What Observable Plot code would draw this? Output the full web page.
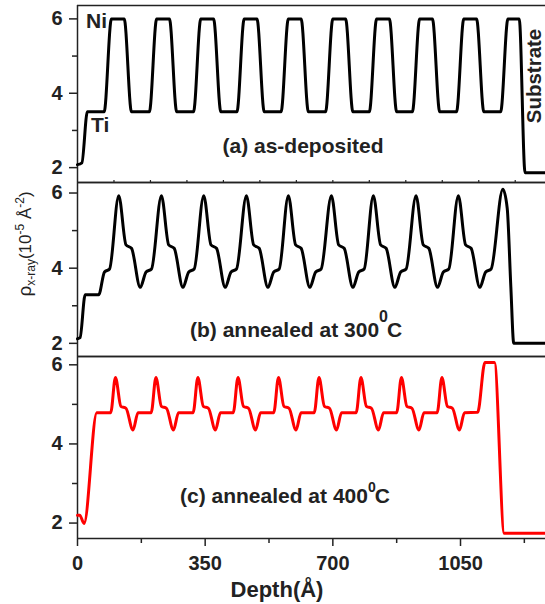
<!DOCTYPE html>
<html><head><meta charset="utf-8">
<script src="https://cdn.jsdelivr.net/npm/d3@7"></script>
<script src="https://cdn.jsdelivr.net/npm/@observablehq/plot@0.6"></script>
<style>
body{margin:0;background:#fff;}
#chart{position:relative;width:545px;height:604px;overflow:hidden;background:#fff;}
#chart svg{position:absolute;left:0;}
</style></head><body><div id="chart"></div>
<script>
// (a) as-deposited
const depthA = [0, 12, 27, 73, 93, 128, 148,
  197, 217, 252, 272,
  318, 338, 373, 393,
  437, 457, 492, 512,
  558, 578, 613, 633,
  680, 700, 735, 755,
  800, 820, 855, 875,
  918, 938, 973, 993,
  1039, 1059, 1094, 1114,
  1160, 1180, 1211, 1227, 1283];
const rhoA = [2.08, 2.13, 3.5, 3.5, 6, 6, 3.5,
  3.5, 6, 6, 3.5,
  3.5, 6, 6, 3.5,
  3.5, 6, 6, 3.5,
  3.5, 6, 6, 3.5,
  3.5, 6, 6, 3.5,
  3.5, 6, 6, 3.5,
  3.5, 6, 6, 3.5,
  3.5, 6, 6, 3.5,
  3.5, 6, 6, 1.86, 1.86];
// (b) annealed at 300 C
const depthB = [0, 7, 21, 58, 74, 88,
  113, 133, 148, 172, 188, 203,
  230, 250, 265, 289, 305, 320,
  346, 366, 381, 405, 421, 436,
  463, 483, 498, 522, 538, 553,
  578, 598, 613, 637, 653, 668,
  696, 716, 731, 755, 771, 786,
  811, 831, 846, 870, 886, 901,
  928, 948, 963, 987, 1003, 1018,
  1044, 1064, 1079, 1103, 1119, 1134,
  1166, 1178, 1188, 1196, 1283];
const rhoB = [2.12, 2.15, 3.29, 3.29, 3.9, 3.98,
  5.93, 4.62, 4.53, 3.49, 3.9, 3.98,
  5.93, 4.62, 4.53, 3.49, 3.9, 3.98,
  5.93, 4.62, 4.53, 3.49, 3.9, 3.98,
  5.93, 4.62, 4.53, 3.49, 3.9, 3.98,
  5.93, 4.62, 4.53, 3.49, 3.9, 3.98,
  5.93, 4.62, 4.53, 3.49, 3.9, 3.98,
  5.93, 4.62, 4.53, 3.49, 3.9, 3.98,
  5.93, 4.62, 4.53, 3.49, 3.9, 3.98,
  5.93, 4.62, 4.53, 3.49, 3.9, 3.98,
  6.1, 5.6, 3.5, 2.0, 2.0];
// (c) annealed at 400 C
const depthC = [0, 6, 18, 53, 91,
  104, 119, 133, 152, 166, 202,
  215, 230, 244, 263, 277, 317,
  330, 345, 359, 378, 392, 427,
  440, 455, 469, 488, 502, 538,
  551, 566, 580, 599, 613, 649,
  662, 677, 691, 710, 724, 764,
  777, 792, 806, 825, 839, 875,
  888, 903, 917, 936, 950, 986,
  999, 1014, 1028, 1047, 1061, 1097,
  1117, 1143, 1170, 1283];
const rhoC = [2.2, 2.2, 1.99, 4.79, 4.79,
  5.68, 4.95, 4.9, 4.35, 4.79, 4.79,
  5.68, 4.95, 4.9, 4.35, 4.79, 4.79,
  5.68, 4.95, 4.9, 4.35, 4.79, 4.79,
  5.68, 4.95, 4.9, 4.35, 4.79, 4.79,
  5.68, 4.95, 4.9, 4.35, 4.79, 4.79,
  5.68, 4.95, 4.9, 4.35, 4.79, 4.79,
  5.68, 4.95, 4.9, 4.35, 4.79, 4.79,
  5.68, 4.95, 4.9, 4.35, 4.79, 4.79,
  5.68, 4.95, 4.9, 4.35, 4.79, 4.8,
  6.06, 6.06, 1.74, 1.74];

const xDomain = [0, 1283];
const xMajorTicks = [0, 350, 700, 1050];
const xMinorTicks = [175, 525, 875, 1225];
const xEdgeTicks = [100, 200, 300, 400, 500, 600, 700, 800, 900, 1000, 1100, 1200];
const yMajorTicks = [2, 4, 6];
const yMinorTicks = [3, 5];
const panelLabels = ["(a) as-deposited", "(b) annealed at 300", "(c) annealed at 400"];

const INK = "#222";
const FONT = "'Liberation Sans', Arial, Helvetica, sans-serif";

const panels = [
  {depth: depthA, rho: rhoA, color: "#000", yDomain: [1.6, 6.36], top: 0, marginTop: 5, height: 182, marginBottom: 0, edge: false, bottomAxis: false},
  {depth: depthB, rho: rhoB, color: "#000", yDomain: [1.65, 6.28], top: 182, marginTop: 0, height: 174, marginBottom: 0, edge: true, bottomAxis: false},
  {depth: depthC, rho: rhoC, color: "#ff0000", yDomain: [1.61, 6.21], top: 356, marginTop: 0, height: 248, marginBottom: 66, edge: false, bottomAxis: true}
];

const chart = document.getElementById("chart");

for (const p of panels) {
  const data = d3.zip(p.depth, p.rho);
  const marks = [
    Plot.ruleX([xDomain[0]], {stroke: INK, strokeWidth: 1.5}),
    Plot.ruleY(p.yDomain, {stroke: INK, strokeWidth: 1.5}),
    Plot.axisY({ticks: yMajorTicks, tickSize: 8, tickPadding: 7, tickFormat: "d", label: null, strokeWidth: 1.5}),
    Plot.axisY({ticks: yMinorTicks, tickSize: 5, tickFormat: () => "", label: null, strokeWidth: 1.5}),
    Plot.line(data, {x: d => d[0], y: d => d[1], curve: "monotone-x", stroke: p.color, strokeWidth: 3, strokeLinejoin: "round"})
  ];
  if (p.edge) marks.push(Plot.axisX({anchor: "top", ticks: xEdgeTicks, tickSize: 3, tickFormat: () => "", label: null, strokeWidth: 1.2}));
  if (p.bottomAxis) {
    marks.push(Plot.axisX({anchor: "bottom", ticks: xMajorTicks, tickSize: 8, tickPadding: 9, tickFormat: "d", label: null, strokeWidth: 1.5}));
    marks.push(Plot.axisX({anchor: "bottom", ticks: xMinorTicks, tickSize: 5, tickFormat: () => "", label: null, strokeWidth: 1.5}));
  }
  const svg = Plot.plot({
    width: 545, height: p.height,
    marginLeft: 77, marginRight: 0, marginTop: p.marginTop, marginBottom: p.marginBottom,
    x: {domain: xDomain, axis: p.edge || p.bottomAxis ? undefined : null},
    y: {domain: p.yDomain},
    style: {fontFamily: FONT, fontSize: "20px", fontWeight: "bold", color: INK, background: "transparent", overflow: "visible"},
    marks
  });
  svg.style.top = p.top + "px";
  chart.appendChild(svg);
}

// annotations overlay
const ov = d3.create("svg").attr("width", 545).attr("height", 604)
  .style("top", "0px").style("pointer-events", "none")
  .attr("font-family", FONT).attr("font-weight", "bold").attr("fill", INK);

ov.append("text").attr("x", 86).attr("y", 28).attr("font-size", 21).text("Ni");
ov.append("text").attr("x", 91).attr("y", 132).attr("font-size", 21).text("Ti");
ov.append("text").attr("x", 303).attr("y", 152.5).attr("font-size", 21).attr("text-anchor", "middle").text(panelLabels[0]);
ov.append("text").attr("transform", "translate(541,76) rotate(-90)").attr("font-size", 20.5).attr("text-anchor", "middle").text("Substrate");

const tb = ov.append("text").attr("x", 190).attr("y", 336.7).attr("font-size", 21);
tb.append("tspan").text(panelLabels[1]);
tb.append("tspan").attr("font-size", 16).attr("dy", -15).text("0");
tb.append("tspan").attr("dy", 15).attr("dx", -1).text("C");

const tc = ov.append("text").attr("x", 180).attr("y", 502.7).attr("font-size", 21);
tc.append("tspan").text(panelLabels[2]);
tc.append("tspan").attr("font-size", 14).attr("dy", -11).text("0");
tc.append("tspan").attr("dy", 11).attr("dx", -1).text("C");

ov.append("text").attr("x", 277).attr("y", 597).attr("font-size", 22).attr("text-anchor", "middle").text("Depth(Å)");

const yl = ov.append("text").attr("transform", "translate(31,244) rotate(-90)")
  .attr("font-size", 17).attr("font-weight", "normal").attr("text-anchor", "middle");
yl.append("tspan").attr("font-size", 19).text("ρ");
yl.append("tspan").attr("font-size", 12).attr("dy", 4).text("x-ray");
yl.append("tspan").attr("dy", -4).text("(10");
yl.append("tspan").attr("font-size", 12).attr("dy", -7).text("-5");
yl.append("tspan").attr("dy", 7).text(" Å");
yl.append("tspan").attr("font-size", 12).attr("dy", -7).text("-2");
yl.append("tspan").attr("dy", 7).text(")");

chart.appendChild(ov.node());
</script></body></html>
